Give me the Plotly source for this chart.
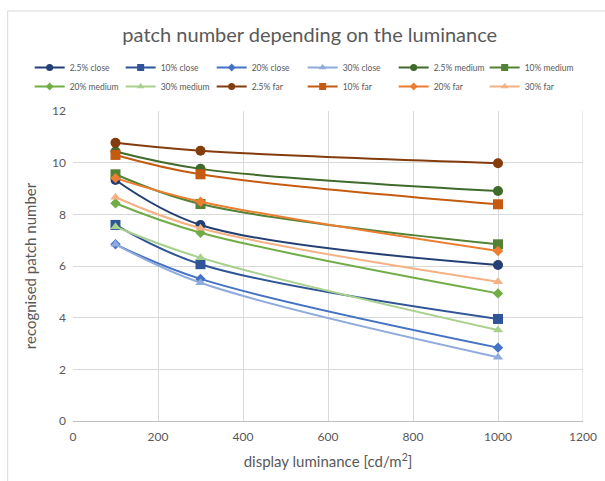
import plotly.graph_objects as go

# Display luminance levels [cd/m²]
luminance = [100, 300, 1000]

# Recognised patch number per condition (patch size %, viewing distance)
close_2_5 = [9.33, 7.59, 6.04]
close_10 = [7.59, 6.07, 3.95]
close_20 = [6.84, 5.50, 2.84]
close_30 = [6.84, 5.35, 2.47]
medium_2_5 = [10.43, 9.76, 8.90]
medium_10 = [9.55, 8.40, 6.84]
medium_20 = [8.43, 7.29, 4.94]
medium_30 = [7.52, 6.32, 3.52]
far_2_5 = [10.77, 10.46, 9.98]
far_10 = [10.30, 9.55, 8.39]
far_20 = [9.40, 8.49, 6.58]
far_30 = [8.66, 7.46, 5.39]

series_names = [
    "2.5% close", "10% close", "20% close", "30% close",
    "2.5% medium", "10% medium", "20% medium", "30% medium",
    "2.5% far", "10% far", "20% far", "30% far",
]
series_values = [
    close_2_5, close_10, close_20, close_30,
    medium_2_5, medium_10, medium_20, medium_30,
    far_2_5, far_10, far_20, far_30,
]

colors = [
    "#233F74", "#2F5597", "#4472C4", "#8FAADC",
    "#3F6A2A", "#548235", "#70AD47", "#A9D18E",
    "#843C0C", "#C55A11", "#ED7D31", "#F4B183",
]
# marker per patch size: 2.5% circle, 10% square, 20% diamond, 30% triangle
symbols = ["circle", "square", "diamond", "triangle-up"] * 3
sizes = [10, 10, 8, 9] * 3
legend_sizes = [7, 7, 6, 7] * 3

FONT = "Lato, 'Open Sans', sans-serif"
GREY = "#595959"

fig = go.Figure()
for name, vals, col, sym, sz in zip(series_names, series_values, colors, symbols, sizes):
    fig.add_trace(go.Scatter(
        x=luminance, y=vals, name=name, legendgroup=name, showlegend=False,
        mode="lines+markers",
        line=dict(color=col, width=2, shape="spline", smoothing=1.0),
        marker=dict(symbol=sym, size=sz, color=col, line=dict(width=0)),
    ))

# legend keys with smaller symbols
for name, col, sym, lsz in zip(series_names, colors, symbols, legend_sizes):
    fig.add_trace(go.Scatter(
        x=[None], y=[None], name=name, legendgroup=name, showlegend=True,
        mode="lines+markers",
        line=dict(color=col, width=2),
        marker=dict(symbol=sym, size=lsz, color=col, line=dict(width=0)),
    ))

# plot area in pixels: left 73, right 583, top 111, bottom 421
L, R, T, B = 73.3, 583.0, 111.0, 421.0
W, H = 605, 481


def px_x(px):
    return (px - L) / (R - L)


def px_y(py):
    return (B - py) / (B - T)


fig.update_layout(
    width=W, height=H,
    margin=dict(l=L, r=W - R, t=T, b=H - B, autoexpand=False),
    paper_bgcolor="white", plot_bgcolor="white",
    font=dict(family=FONT, color=GREY),
    title=dict(
        text="patch number depending on the luminance",
        x=0.512, xref="container", xanchor="center",
        y=1 - 35 / H, yref="container", yanchor="middle",
        font=dict(size=20, color=GREY, family=FONT),
    ),
    legend=dict(
        orientation="h",
        x=px_x(30), xanchor="left",
        y=px_y(53), yanchor="top",
        entrywidth=46, entrywidthmode="pixels",
        font=dict(size=8.5, color=GREY, family=FONT),
        itemwidth=30,
        tracegroupgap=0,
        bgcolor="rgba(0,0,0,0)",
    ),
    xaxis=dict(
        range=[0, 1200], dtick=200, tick0=0,
        showgrid=True, gridcolor="#D9D9D9", gridwidth=1,
        zeroline=False,
        showline=True, linecolor="#BFBFBF", linewidth=1,
        ticks="", ticklabelstandoff=5,
        tickfont=dict(size=12, color=GREY, family=FONT),
        title=dict(text="display luminance [cd/m<sup>2</sup>]",
                   font=dict(size=15, color=GREY, family=FONT), standoff=13),
        fixedrange=True,
    ),
    yaxis=dict(
        range=[0, 12], dtick=2, tick0=0,
        showgrid=True, gridcolor="#D9D9D9", gridwidth=1,
        zeroline=False, showline=False,
        ticks="", ticklabelstandoff=6,
        tickfont=dict(size=12, color=GREY, family=FONT),
        title=dict(text="recognised patch number",
                   font=dict(size=15, color=GREY, family=FONT), standoff=11),
        fixedrange=True,
    ),
    shapes=[
        # chart-area frame
        dict(type="rect", xref="paper", yref="paper",
             x0=px_x(8), x1=px_x(640), y0=px_y(520), y1=px_y(11),
             line=dict(color="#D9D9D9", width=1), layer="below"),
        # right-hand vertical gridline at 1200
        dict(type="line", xref="x", yref="paper", x0=1200, x1=1200, y0=0, y1=1,
             line=dict(color="#D9D9D9", width=1), layer="below"),
    ],
)

fig.write_html("out.html")
